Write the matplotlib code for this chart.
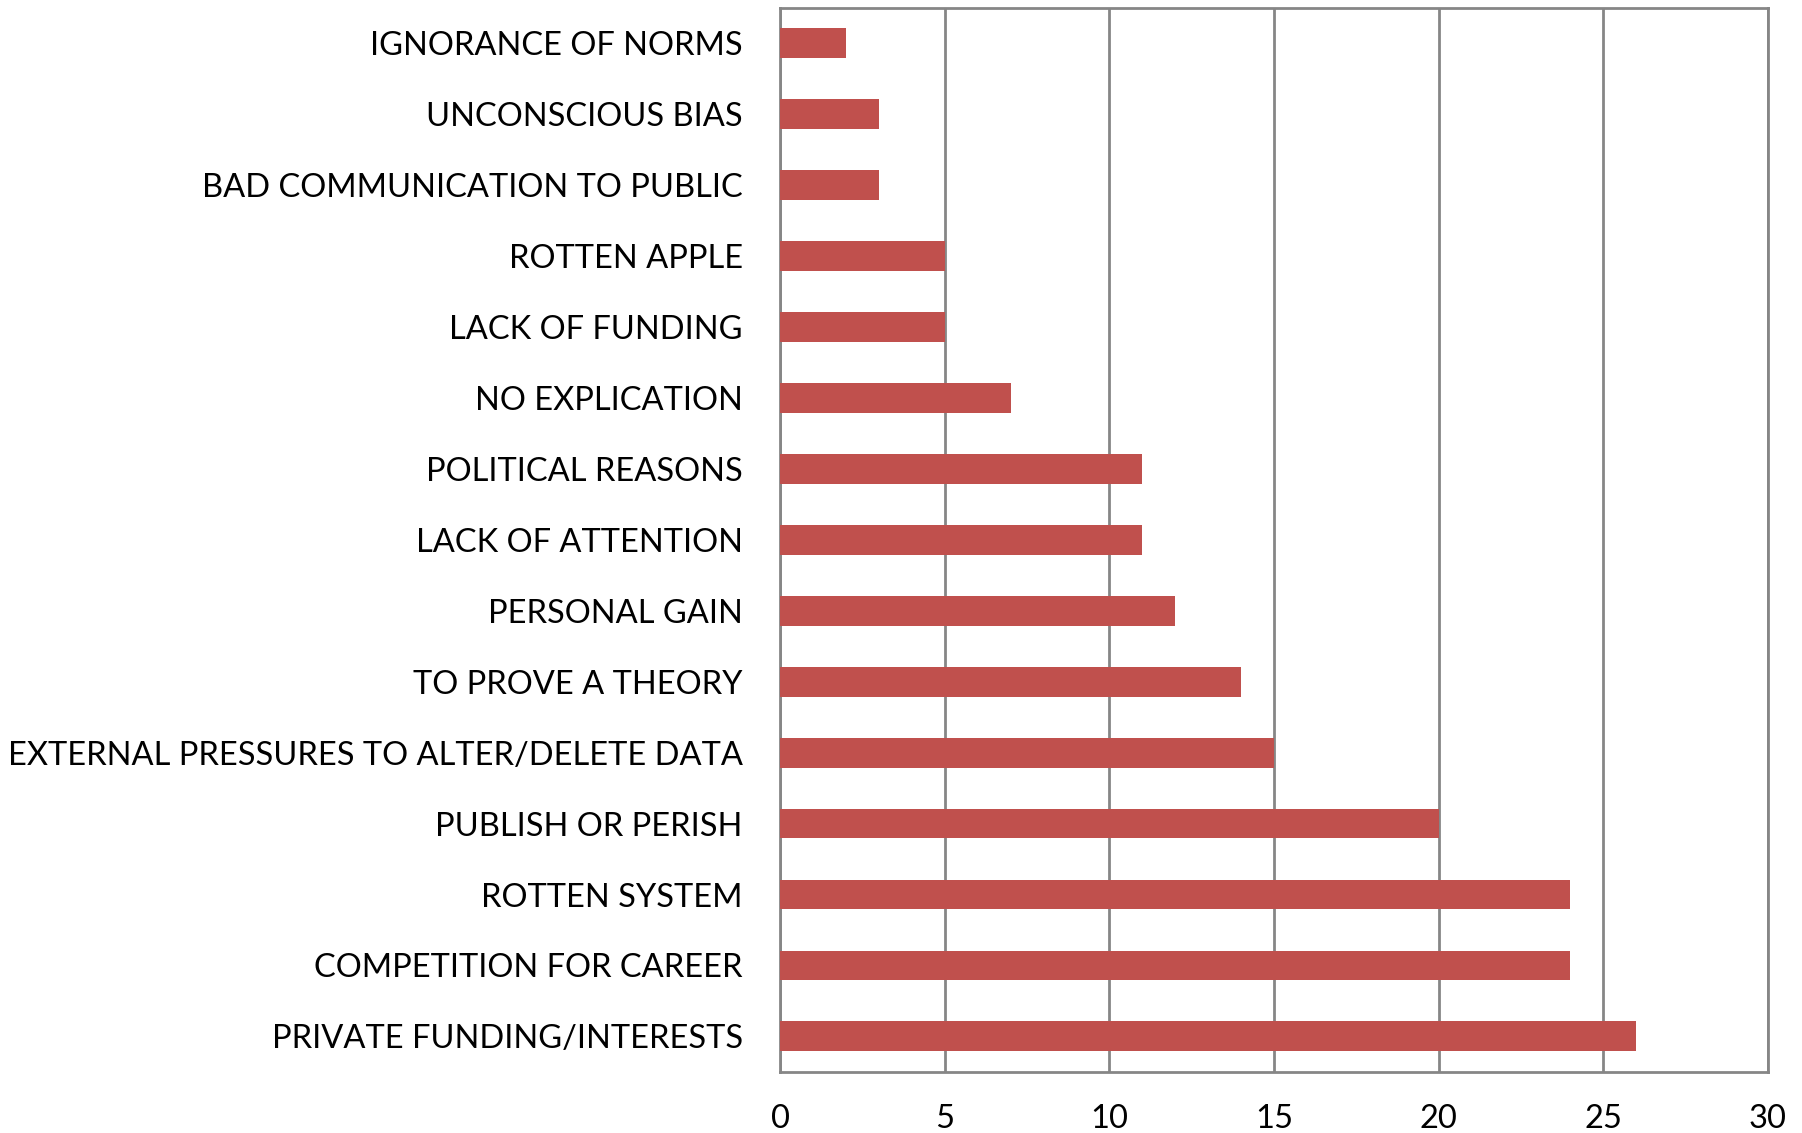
import matplotlib.pyplot as plt

categories = ["IGNORANCE OF NORMS", "UNCONSCIOUS BIAS", "BAD COMMUNICATION TO PUBLIC",
              "ROTTEN APPLE", "LACK OF FUNDING", "NO EXPLICATION", "POLITICAL REASONS",
              "LACK OF ATTENTION", "PERSONAL GAIN", "TO PROVE A THEORY",
              "EXTERNAL PRESSURES TO ALTER/DELETE DATA", "PUBLISH OR PERISH",
              "ROTTEN SYSTEM", "COMPETITION FOR CAREER", "PRIVATE FUNDING/INTERESTS"]
values = [2, 3, 3, 5, 5, 7, 11, 11, 12, 14, 15, 20, 24, 24, 26]
xticks = [0, 5, 10, 15, 20, 25, 30]

plt.rcParams['font.family'] = ['Lato', 'DejaVu Sans']

fig = plt.figure(figsize=(18.02, 11.33), dpi=100)
ax = fig.add_axes([0.433, 0.054, 0.548, 0.939])

pos = range(len(categories))
ax.barh(pos, values, height=0.42, color='#C0504D', zorder=3)
ax.set_yticks(list(pos))
ax.set_yticklabels(categories, fontsize=23.5, color='#000000')
ax.set_ylim(len(categories) - 0.5, -0.5)
ax.set_xlim(0, 30)
ax.set_xticks(xticks)
ax.set_xticklabels([str(t) for t in xticks], fontsize=23.5, color='#000000')
ax.tick_params(axis='y', length=0, pad=27)
ax.tick_params(axis='x', length=0, pad=23)
ax.grid(axis='x', color='#868686', linewidth=2, zorder=0)
for s in ax.spines.values():
    s.set_color('#868686')
    s.set_linewidth(2)

plt.savefig("out.png", dpi=100)
